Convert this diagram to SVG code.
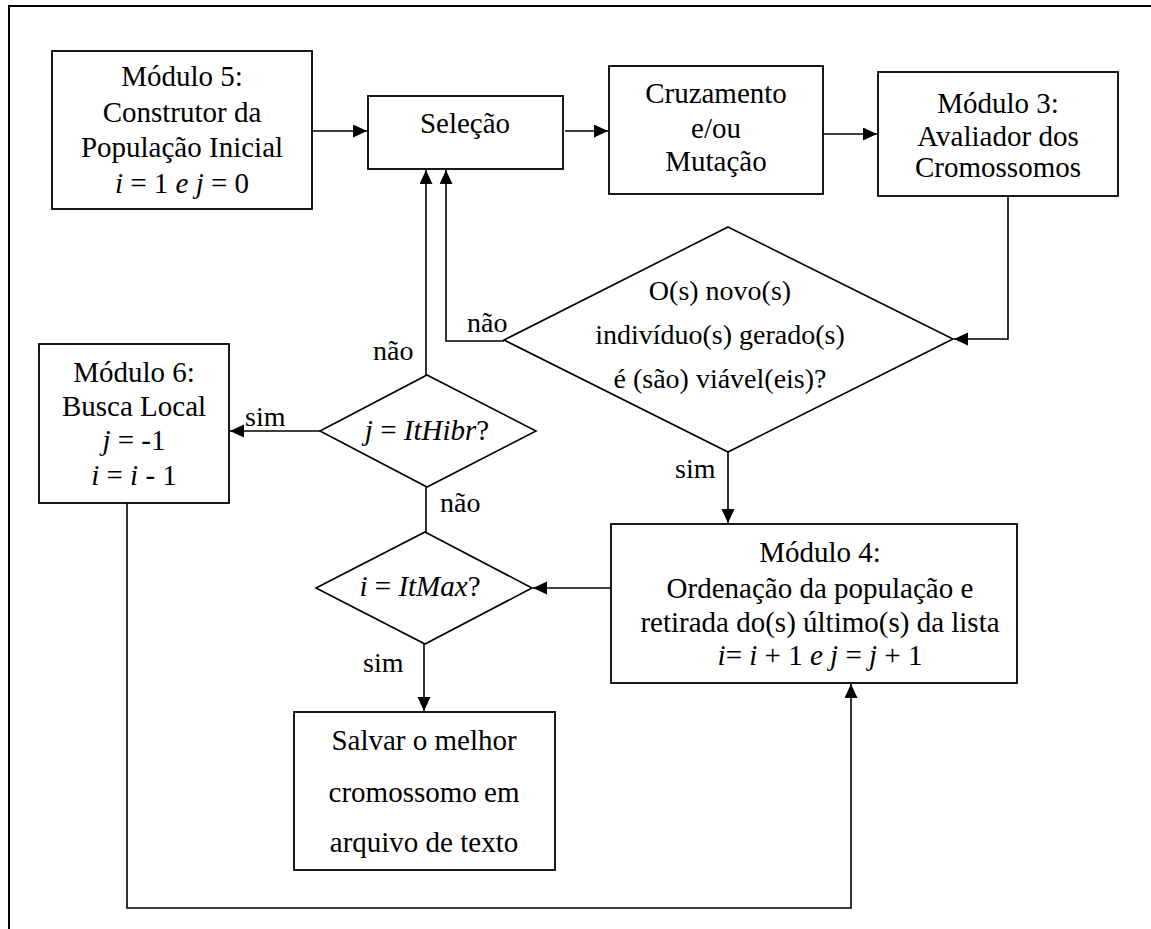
<svg xmlns="http://www.w3.org/2000/svg" width="1151" height="929" viewBox="0 0 1151 929">
  <style>
    .box { fill: #fff; stroke: #000; stroke-width: 1.8; }
    .dec { fill: #fff; stroke: #000; stroke-width: 1.6; }
    .ln { fill: none; stroke: #000; stroke-width: 1.6; }
    .frame { fill: none; stroke: #000; stroke-width: 2; }
    text { fill: #000; font-family: "Liberation Serif"; font-size: 29px; }
    .c { text-anchor: middle; }
    .s28 { font-size: 28px; }
    .it { font-style: italic; }
  </style>
  <defs>
    <marker id="arrow" markerUnits="userSpaceOnUse" markerWidth="15" markerHeight="14" refX="14" refY="6.5" orient="auto">
      <path d="M0,0 L14,6.5 L0,13 Z" fill="#000"/>
    </marker>
  </defs>

  <!-- page frame -->
  <path class="frame" d="M9,929 V6 H1151"/>

  <!-- connectors -->
  <g id="connectors">
    <line class="ln" x1="312" y1="131" x2="367" y2="131" marker-end="url(#arrow)"/>
    <line class="ln" x1="565" y1="131" x2="608" y2="131" marker-end="url(#arrow)"/>
    <line class="ln" x1="823" y1="134" x2="877" y2="134" marker-end="url(#arrow)"/>
    <polyline class="ln" points="1008,196 1008,339 954,339" marker-end="url(#arrow)"/>
    <polyline class="ln" points="504,341 446,341 446,170" marker-end="url(#arrow)"/>
    <line class="ln" x1="728" y1="452" x2="728" y2="523" marker-end="url(#arrow)"/>
    <line class="ln" x1="613" y1="588" x2="533" y2="588" marker-end="url(#arrow)"/>
    <line class="ln" x1="426" y1="487" x2="426" y2="532"/>
    <line class="ln" x1="426" y1="375" x2="426" y2="170" marker-end="url(#arrow)"/>
    <line class="ln" x1="320" y1="431" x2="230" y2="431" marker-end="url(#arrow)"/>
    <line class="ln" x1="424" y1="644" x2="424" y2="711" marker-end="url(#arrow)"/>
    <polyline class="ln" points="127,503 127,908 851,908 851,684" marker-end="url(#arrow)"/>
    <!-- branch labels -->
    <text class="s28" x="467" y="332">não</text>
    <text class="s28" x="373" y="360">não</text>
    <text class="s28" x="245" y="426">sim</text>
    <text class="s28" x="440" y="512">não</text>
    <text class="s28" x="675" y="478">sim</text>
    <text class="s28" x="363" y="672">sim</text>
  </g>

  <g id="modulo5">
    <rect class="box" x="52" y="51" width="260" height="158"/>
    <text class="c" x="182" y="86">Módulo 5:</text>
    <text class="c" x="182" y="122">Construtor da</text>
    <text class="c" x="182" y="157">População Inicial</text>
    <text class="c" x="182" y="193"><tspan class="it">i</tspan> = 1 <tspan class="it">e  j</tspan> = 0</text>
  </g>

  <g id="selecao">
    <rect class="box" x="368" y="96" width="195" height="73"/>
    <text class="c" x="465" y="133">Seleção</text>
  </g>

  <g id="cruzamento">
    <rect class="box" x="609" y="66" width="214" height="128"/>
    <text class="c" x="716" y="103">Cruzamento</text>
    <text class="c" x="716" y="138">e/ou</text>
    <text class="c" x="716" y="171">Mutação</text>
  </g>

  <g id="modulo3">
    <rect class="box" x="878" y="72" width="240" height="124"/>
    <text class="c" x="998" y="113">Módulo 3:</text>
    <text class="c" x="998" y="146">Avaliador dos</text>
    <text class="c" x="998" y="177">Cromossomos</text>
  </g>

  <g id="viavel">
    <polygon class="dec" points="728,227 953,339 728,452 504,340"/>
    <text class="c s28" x="720" y="300">O(s) novo(s)</text>
    <text class="c s28" x="720" y="344">indivíduo(s) gerado(s)</text>
    <text class="c s28" x="720" y="388">é (são) viável(eis)?</text>
  </g>

  <g id="modulo6">
    <rect class="box" x="39" y="344" width="190" height="159"/>
    <text class="c" x="134" y="382">Módulo 6:</text>
    <text class="c" x="134" y="416">Busca Local</text>
    <text class="c" x="134" y="450"><tspan class="it">j</tspan> = -1</text>
    <text class="c" x="134" y="485"><tspan class="it">i</tspan> = <tspan class="it">i</tspan> - 1</text>
  </g>

  <g id="ithibr">
    <polygon class="dec" points="427,375 536,431 427,487 320,431"/>
    <text class="c" x="427" y="440"><tspan class="it">j</tspan> = <tspan class="it">ItHibr</tspan>?</text>
  </g>

  <g id="itmax">
    <polygon class="dec" points="425,532 532,588 425,644 316,588"/>
    <text class="c" x="420" y="596"><tspan class="it">i</tspan> = <tspan class="it">ItMax</tspan>?</text>
  </g>

  <g id="modulo4">
    <rect class="box" x="611" y="524" width="406" height="159"/>
    <text class="c" x="820" y="562">Módulo 4:</text>
    <text class="c" x="820" y="598">Ordenação da população e</text>
    <text class="c" x="820" y="632">retirada do(s) último(s) da lista</text>
    <text class="c" x="820" y="665"><tspan class="it">i</tspan>= <tspan class="it">i</tspan> + 1 <tspan class="it">e j</tspan> = <tspan class="it">j</tspan> + 1</text>
  </g>

  <g id="salvar">
    <rect class="box" x="294" y="712" width="261" height="158"/>
    <text class="c" x="424" y="750">Salvar o melhor</text>
    <text class="c" x="424" y="802">cromossomo em</text>
    <text class="c" x="424" y="852">arquivo de texto</text>
  </g>
</svg>
